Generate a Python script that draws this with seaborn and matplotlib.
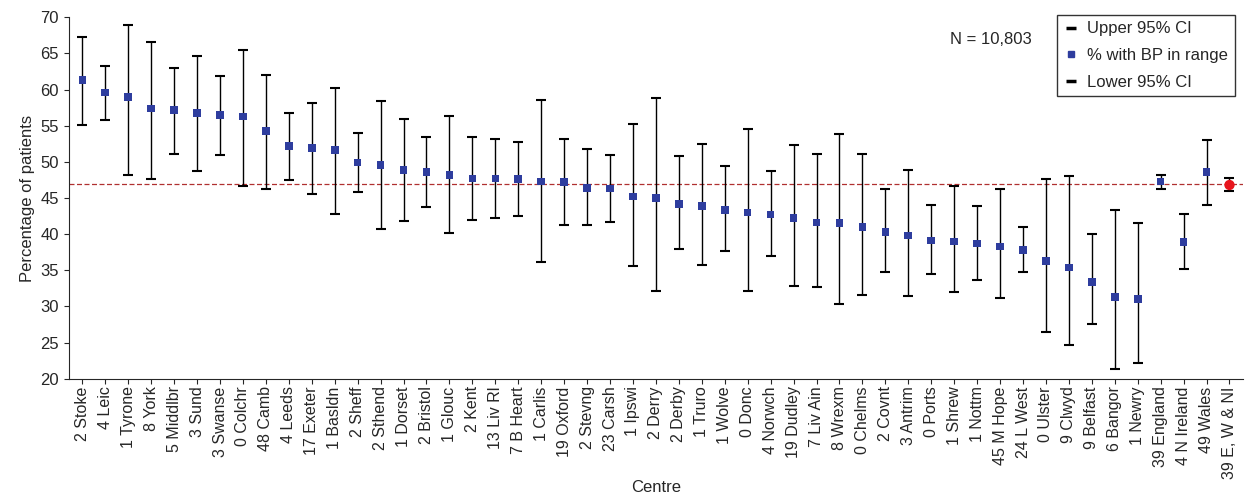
import numpy as np
import pandas as pd
import matplotlib
matplotlib.use("Agg")
import matplotlib.pyplot as plt
import seaborn as sns
from matplotlib.lines import Line2D

# Data
centres = ["2 Stoke", "4 Leic", "1 Tyrone", "8 York", "5 Middlbr", "3 Sund", "3 Swanse",
           "0 Colchr", "48 Camb", "4 Leeds", "17 Exeter", "1 Basldn", "2 Sheff", "2 Sthend",
           "1 Dorset", "2 Bristol", "1 Glouc", "2 Kent", "13 Liv Rl", "7 B Heart", "1 Carlis",
           "19 Oxford", "2 Stevng", "23 Carsh", "1 Ipswi", "2 Derry", "2 Derby", "1 Truro",
           "1 Wolve", "0 Donc", "4 Norwch", "19 Dudley", "7 Liv Ain", "8 Wrexm", "0 Chelms",
           "2 Covnt", "3 Antrim", "0 Ports", "1 Shrew", "1 Nottm", "45 M Hope", "24 L West",
           "0 Ulster", "9 Clwyd", "9 Belfast", "6 Bangor", "1 Newry", "39 England",
           "4 N Ireland", "49 Wales", "39 E, W & NI"]
pct = [61.3, 59.6, 59.0, 57.4, 57.2, 56.8, 56.5, 56.3, 54.3, 52.2, 51.9, 51.6, 49.9, 49.6,
       48.9, 48.6, 48.2, 47.7, 47.7, 47.6, 47.3, 47.2, 46.4, 46.3, 45.2, 45.0, 44.2, 43.9,
       43.3, 43.0, 42.7, 42.2, 41.6, 41.5, 41.0, 40.3, 39.8, 39.1, 39.0, 38.7, 38.3, 37.8,
       36.3, 35.4, 33.4, 31.3, 31.0, 47.3, 38.9, 48.6, 46.8]
upper = [67.3, 63.2, 69.0, 66.6, 63.0, 64.6, 61.9, 65.5, 62.0, 56.8, 58.2, 60.2, 54.0, 58.4,
         56.0, 53.5, 56.4, 53.5, 53.1, 52.8, 58.6, 53.1, 51.8, 50.9, 55.3, 58.8, 50.8, 52.5,
         49.4, 54.6, 48.7, 52.3, 51.1, 53.8, 51.1, 46.2, 48.9, 44.0, 46.6, 43.9, 46.2, 41.0,
         47.6, 48.0, 40.0, 43.3, 41.5, 48.2, 42.8, 53.0, 47.7]
lower = [55.1, 55.8, 48.2, 47.6, 51.1, 48.7, 51.0, 46.6, 46.3, 47.5, 45.6, 42.8, 45.8, 40.7,
         41.8, 43.8, 40.1, 42.0, 42.3, 42.5, 36.2, 41.2, 41.2, 41.7, 35.6, 32.1, 37.9, 35.7,
         37.6, 32.1, 37.0, 32.8, 32.7, 30.3, 31.6, 34.7, 31.4, 34.5, 32.0, 33.6, 31.1, 34.7,
         26.4, 24.6, 27.5, 21.4, 22.2, 46.3, 35.2, 44.1, 45.9]
overall = 46.9

BLUE = "#2e3d9e"

df = pd.DataFrame({"centre": centres, "pct": pct, "upper": upper, "lower": lower})
df["x"] = np.arange(len(df))

sns.set_style("ticks")
plt.rcParams["font.family"] = ["Liberation Sans", "DejaVu Sans"]

fig, ax = plt.subplots(figsize=(12.47, 4.95), dpi=100)

ax.errorbar(df["x"], df["pct"],
            yerr=[df["pct"] - df["lower"], df["upper"] - df["pct"]],
            fmt="none", ecolor="black", elinewidth=1, capsize=3.5, capthick=1.5, zorder=2)
main = df.iloc[:-1]
sns.scatterplot(data=main, x="x", y="pct", marker="s", s=30, color=BLUE,
                edgecolor="none", ax=ax, zorder=3)
sns.scatterplot(data=df.iloc[-1:], x="x", y="pct", marker="o", s=55, color="#e8141c",
                edgecolor="none", ax=ax, zorder=3)
ax.axhline(overall, color="#b03030", ls=(0, (4, 2)), lw=0.9, zorder=1)

ax.set_xlim(-0.6, len(df) - 0.4)
ax.set_ylim(20, 70)
ax.set_yticks(range(20, 71, 5))
ax.set_xticks(df["x"])
ax.set_xticklabels(df["centre"], rotation=90, fontsize=11.5)
ax.tick_params(axis="x", pad=2)
ax.tick_params(axis="y", labelsize=12)
ax.set_xlabel("Centre", fontsize=12, labelpad=1)
ax.set_ylabel("Percentage of patients", fontsize=12)
sns.despine(ax=ax)

ax.text(0.82, 0.94, "N = 10,803", transform=ax.transAxes, ha="right", va="center", fontsize=12)
handles = [Line2D([], [], color="black", marker="_", ls="none", markersize=7, markeredgewidth=2.5),
           Line2D([], [], color=BLUE, marker="s", ls="none", markersize=5),
           Line2D([], [], color="black", marker="_", ls="none", markersize=7, markeredgewidth=2.5)]
ax.legend(handles, ["Upper 95% CI", "% with BP in range", "Lower 95% CI"],
          loc="upper right", bbox_to_anchor=(1.0, 1.03), fontsize=12, frameon=True,
          fancybox=False, edgecolor="black", handlelength=0.8, handletextpad=0.6,
          labelspacing=0.7)

fig.subplots_adjust(left=0.055, right=0.997, top=0.965, bottom=0.235)
fig.savefig("out.png")
